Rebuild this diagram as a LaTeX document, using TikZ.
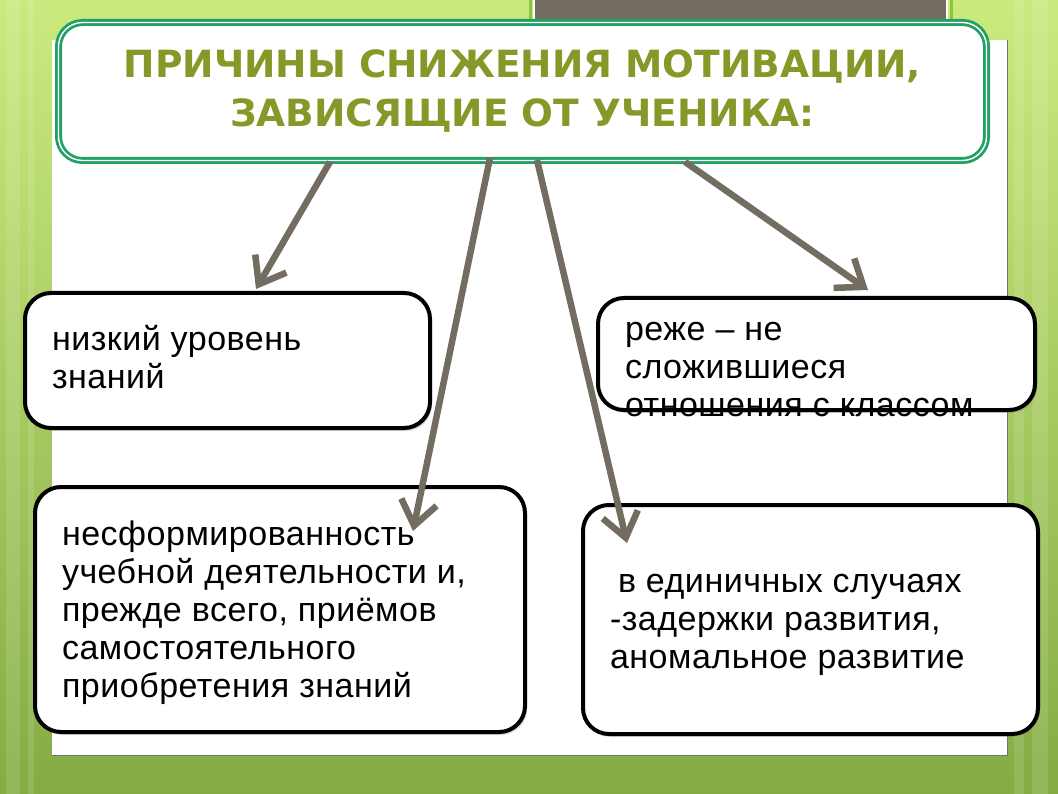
\documentclass[tikz,border=0pt]{standalone}
\usepackage{fontspec}
\setmainfont{Liberation Sans}[LetterSpace=1.5]
\newfontfamily\headfont{DejaVu Sans}
\usetikzlibrary{arrows.meta,backgrounds,shadows}
\definecolor{lime}{HTML}{CBEA7E}
\definecolor{moss}{HTML}{84AC44}
\definecolor{sprout}{HTML}{8CC63F}
\definecolor{olive}{HTML}{879829}
\definecolor{jade}{HTML}{22A065}
\definecolor{slate}{HTML}{736D61}
\tikzset{
  head/.style  = {draw=jade, double=white, double distance=1.4pt, line width=2.8pt,
                  rounded corners=24pt, fill=white, minimum width=928pt,
                  minimum height=138pt, align=center, text=olive,
                  font=\headfont\bfseries\fontsize{37.5}{49}\selectfont},
  cause/.style n args = {3}{draw, line width=4pt, rounded corners=26pt, fill=white,
                  inner sep=0pt, minimum width=#1, minimum height=#2,
                  drop shadow={opacity=.3, shadow xshift=2pt, shadow yshift=-3pt},
                  font=\fontsize{34}{38}\selectfont,
                  execute at begin node={\begin{minipage}[c][#2][t]{#1}\raggedright
                    \leftskip=27pt\vspace*{#3}\strut},
                  execute at end node={\end{minipage}}},
  ar/.style    = {-{Straight Barb[length=24pt,width=36pt]}, line width=6.5pt, slate}
}

\begin{document}
\begin{tikzpicture}[x=1pt,y=-1pt]
  \useasboundingbox (0,0) rectangle (1058,794);
  \node[head] (title) at (522.5,91.5) {ПРИЧИНЫ СНИЖЕНИЯ МОТИВАЦИИ,\\ЗАВИСЯЩИЕ ОТ УЧЕНИКА:};
  \node[cause={405pt}{135pt}{31pt}] (low)   at (227.5,360.5) {низкий уровень\\знаний};
  \node[cause={437pt}{112pt}{16pt}] (rel)   at (816.5,354)   {реже – не\\сложившиеся\\отношения с классом};
  \node[cause={490pt}{245pt}{32pt}] (skill) at (280,609.5)   {несформированность\\учебной деятельности и,\\прежде всего, приёмов\\самостоятельного\\приобретения знаний};
  \node[cause={455pt}{229pt}{61pt}] (dev)   at (810.5,619.5) {\hspace{8pt}в единичных случаях\\-задержки развития,\\аномальное развитие};
  \draw[ar] ([xshift=-192.5pt]title.south) -- ([xshift=28.5pt,yshift=2pt]low.north);
  \draw[ar] ([xshift=-32.5pt,yshift=4pt]title.south) -- ([xshift=133pt,yshift=-46pt]skill.north);
  \draw[ar] ([xshift=14.5pt,yshift=2pt]title.south) -- ([xshift=-183.5pt,yshift=-40pt]dev.north);
  \draw[ar] ([xshift=162.5pt]title.south) -- ([xshift=51.5pt,yshift=6pt]rel.north);
  \begin{scope}[on background layer]
    \shade[top color=lime, bottom color=moss] (0,0) rectangle (1058,794);
    \foreach \x/\w in {6/14, 28/6, 1014/10, 1032/16}
      \fill[white, opacity=.12] (\x,0) rectangle ++(\w,794);
    \fill[slate] (533,0) rectangle (948,26);
    \draw[white, line width=2pt] (534,0) -- (534,26) (947,0) -- (947,26);
    \draw[sprout, line width=3pt] (530,0) -- (530,26) (951,0) -- (951,26);
    \fill[white] (52,40) rectangle (1007,755);
    \draw[black!55, line width=1pt] (1007,40) -- (1007,755) -- (52,755);
  \end{scope}
\end{tikzpicture}
\end{document}
